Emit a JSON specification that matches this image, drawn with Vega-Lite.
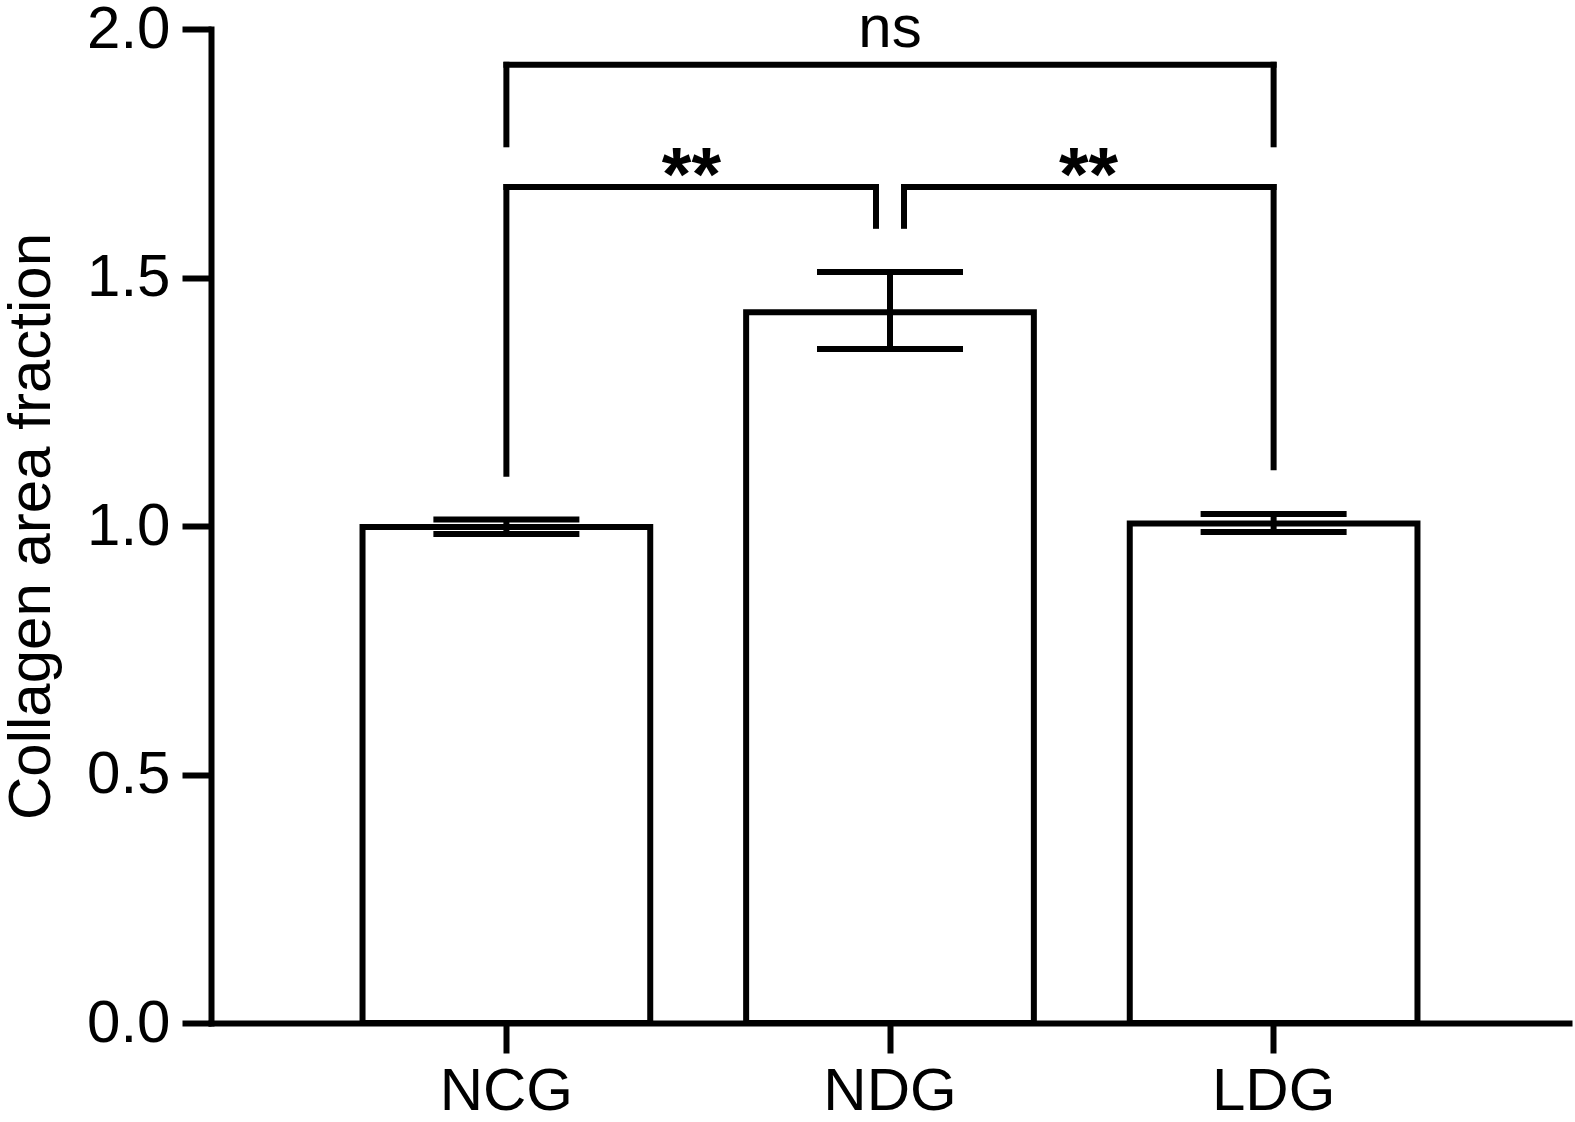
{
  "$schema": "https://vega.github.io/schema/vega-lite/v6.json",
  "width": 1358,
  "height": 994,
  "autosize": "none",
  "padding": {"left": 211, "top": 29, "right": 6, "bottom": 99},
  "background": "white",
  "config": {"view": {"stroke": null}, "font": "Liberation Sans"},
  "datasets": {
    "bars": [
      {"group": "NCG", "mean": 0.998, "lower": 0.984, "upper": 1.013},
      {"group": "NDG", "mean": 1.43, "lower": 1.356, "upper": 1.511},
      {"group": "LDG", "mean": 1.005, "lower": 0.988, "upper": 1.024}
    ]
  },
  "encoding": {
    "x": {
      "field": "group", "type": "nominal",
      "scale": {"domain": ["NCG", "NDG", "LDG"], "paddingInner": 0.25, "paddingOuter": 0.395},
      "axis": {
        "title": null, "labelAngle": 0, "labelFontSize": 60, "labelColor": "black",
        "labelPadding": 9, "tickSize": 30, "tickWidth": 6, "tickColor": "black",
        "domainColor": "black", "domainWidth": 6, "domainCap": "square"
      }
    }
  },
  "layer": [
    {
      "data": {"name": "bars"},
      "mark": {"type": "bar", "fill": "white", "stroke": "black", "strokeWidth": 6},
      "encoding": {
        "y": {
          "field": "mean", "type": "quantitative",
          "scale": {"domain": [0, 2], "nice": false},
          "axis": {
            "values": [0, 0.5, 1, 1.5, 2], "format": ".1f", "grid": false,
            "labelFontSize": 60, "labelColor": "black", "labelPadding": 12,
            "tickSize": 29, "tickWidth": 6, "tickColor": "black",
            "domainColor": "black", "domainWidth": 6, "domainCap": "square",
            "title": "Collagen area fraction", "titleFontSize": 60,
            "titleFontWeight": "normal", "titleColor": "black", "titlePadding": 24
          }
        }
      }
    },
    {
      "data": {"name": "bars"},
      "mark": {"type": "rule", "color": "black", "strokeWidth": 6},
      "encoding": {
        "y": {"field": "lower", "type": "quantitative"},
        "y2": {"field": "upper"}
      }
    },
    {
      "data": {"name": "bars"},
      "mark": {"type": "tick", "color": "black", "size": 146, "thickness": 6, "opacity": 1},
      "encoding": {"y": {"field": "upper", "type": "quantitative"}}
    },
    {
      "data": {"name": "bars"},
      "mark": {"type": "tick", "color": "black", "size": 146, "thickness": 6, "opacity": 1},
      "encoding": {"y": {"field": "lower", "type": "quantitative"}}
    },
    {
      "data": {"values": [
        {"from": "NCG", "to": "LDG", "level": 1.928}
      ]},
      "mark": {"type": "rule", "color": "black", "strokeWidth": 6, "strokeCap": "square"},
      "encoding": {
        "x": {"field": "from", "type": "nominal", "bandPosition": 0.5},
        "x2": {"field": "to", "bandPosition": 0.5},
        "y": {"field": "level", "type": "quantitative"}
      }
    },
    {
      "data": {"values": [
        {"group": "NCG", "top": 1.928, "bottom": 1.768},
        {"group": "LDG", "top": 1.928, "bottom": 1.768}
      ]},
      "mark": {"type": "rule", "color": "black", "strokeWidth": 6, "strokeCap": "square"},
      "encoding": {
        "x": {"field": "group", "type": "nominal"},
        "y": {"field": "top", "type": "quantitative"},
        "y2": {"field": "bottom"}
      }
    },
    {
      "data": {"values": [
        {"from": "NCG", "to": "NDG", "level": 1.682}
      ]},
      "mark": {"type": "rule", "color": "black", "strokeWidth": 6, "strokeCap": "square", "x2Offset": -14},
      "encoding": {
        "x": {"field": "from", "type": "nominal", "bandPosition": 0.5},
        "x2": {"field": "to", "bandPosition": 0.5},
        "y": {"field": "level", "type": "quantitative"}
      }
    },
    {
      "data": {"values": [
        {"from": "NDG", "to": "LDG", "level": 1.682}
      ]},
      "mark": {"type": "rule", "color": "black", "strokeWidth": 6, "strokeCap": "square", "xOffset": 14},
      "encoding": {
        "x": {"field": "from", "type": "nominal", "bandPosition": 0.5},
        "x2": {"field": "to", "bandPosition": 0.5},
        "y": {"field": "level", "type": "quantitative"}
      }
    },
    {
      "data": {"values": [
        {"group": "NCG", "top": 1.682, "bottom": 1.105},
        {"group": "LDG", "top": 1.682, "bottom": 1.118}
      ]},
      "mark": {"type": "rule", "color": "black", "strokeWidth": 6, "strokeCap": "square"},
      "encoding": {
        "x": {"field": "group", "type": "nominal"},
        "y": {"field": "top", "type": "quantitative"},
        "y2": {"field": "bottom"}
      }
    },
    {
      "data": {"values": [{"group": "NDG", "top": 1.682, "bottom": 1.604}]},
      "mark": {"type": "rule", "color": "black", "strokeWidth": 6, "strokeCap": "square", "xOffset": -14},
      "encoding": {
        "x": {"field": "group", "type": "nominal"},
        "y": {"field": "top", "type": "quantitative"},
        "y2": {"field": "bottom"}
      }
    },
    {
      "data": {"values": [{"group": "NDG", "top": 1.682, "bottom": 1.604}]},
      "mark": {"type": "rule", "color": "black", "strokeWidth": 6, "strokeCap": "square", "xOffset": 14},
      "encoding": {
        "x": {"field": "group", "type": "nominal"},
        "y": {"field": "top", "type": "quantitative"},
        "y2": {"field": "bottom"}
      }
    },
    {
      "data": {"values": [{"group": "NDG", "label": "ns", "level": 1.964}]},
      "mark": {"type": "text", "fontSize": 60, "color": "black", "baseline": "alphabetic", "align": "center"},
      "encoding": {
        "x": {"field": "group", "type": "nominal"},
        "y": {"field": "level", "type": "quantitative"},
        "text": {"field": "label"}
      }
    },
    {
      "data": {"values": [{"group": "NCG", "label": "**", "level": 1.656}]},
      "mark": {"type": "text", "fontSize": 76, "fontWeight": "bold", "color": "black", "baseline": "alphabetic", "align": "center", "dx": 185},
      "encoding": {
        "x": {"field": "group", "type": "nominal"},
        "y": {"field": "level", "type": "quantitative"},
        "text": {"field": "label"}
      }
    },
    {
      "data": {"values": [{"group": "LDG", "label": "**", "level": 1.656}]},
      "mark": {"type": "text", "fontSize": 76, "fontWeight": "bold", "color": "black", "baseline": "alphabetic", "align": "center", "dx": -185},
      "encoding": {
        "x": {"field": "group", "type": "nominal"},
        "y": {"field": "level", "type": "quantitative"},
        "text": {"field": "label"}
      }
    }
  ]
}
